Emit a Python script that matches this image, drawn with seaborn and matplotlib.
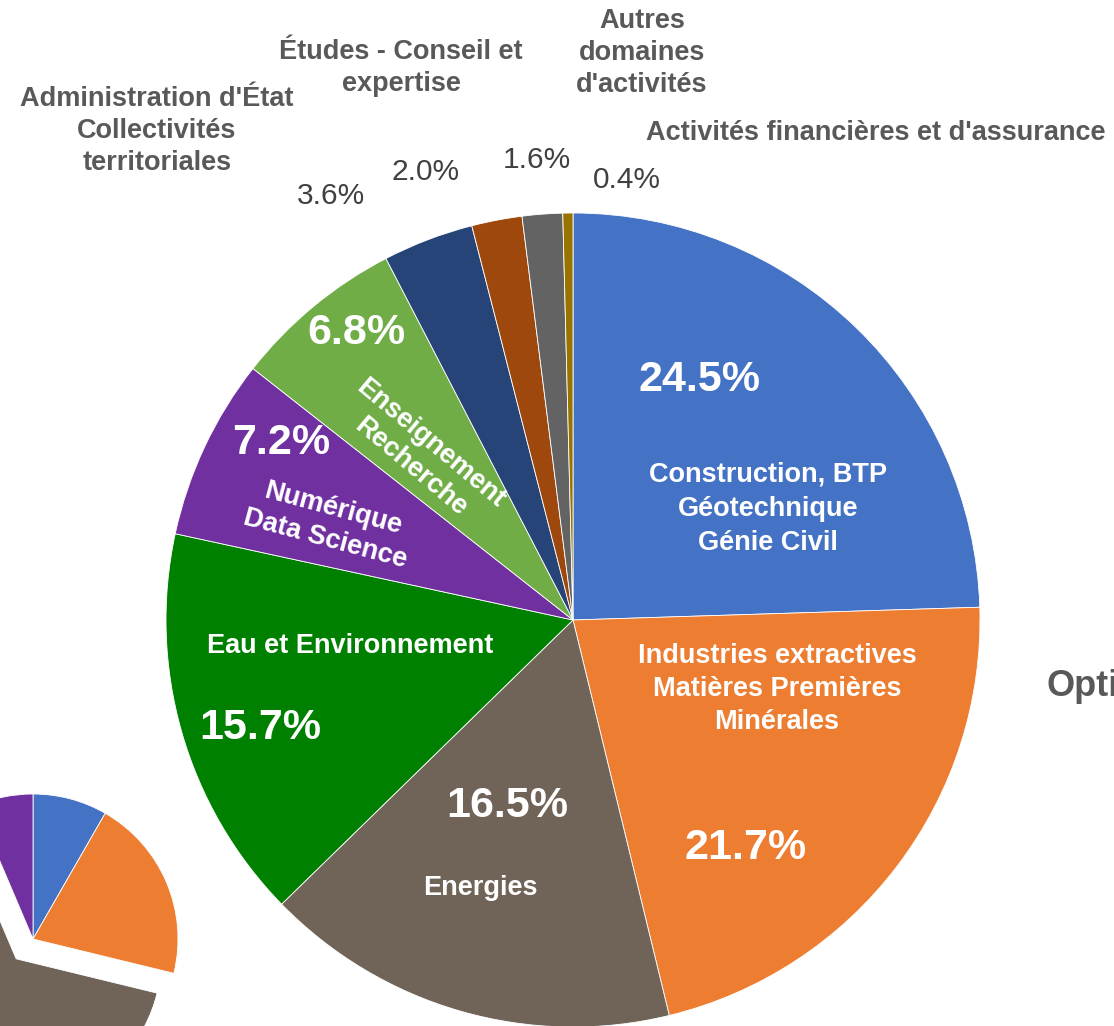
import matplotlib
matplotlib.use('Agg')
import matplotlib.pyplot as plt
import seaborn as sns

# main pie: share of graduates per sector (%)
sectors = ["Construction, BTP", "Industries extractives", "Energies", "Eau et Environnement",
           "Numérique", "Enseignement", "Administration", "Études", "Autres", "Financières"]
shares = [24.5, 21.7, 16.5, 15.7, 7.2, 6.8, 3.6, 2.0, 1.6, 0.4]
colors = ["#4472C4", "#ED7D31", "#706357", "#008000", "#7030A0",
          "#70AD47", "#264478", "#9E480E", "#636363", "#997300"]

# second (cropped) pie at bottom left
side_shares = [8.3, 20.5, 64.8, 6.4]
side_colors = ["#4472C4", "#ED7D31", "#706357", "#7030A0"]

W, H = 1114, 1026

sns.set_theme(style="white")
plt.rcParams['font.family'] = ['Liberation Sans', 'DejaVu Sans']


def Y(y):
    return H - y


fig = plt.figure(figsize=(W / 100, H / 100), dpi=100)
ax = fig.add_axes([0, 0, 1, 1])

ax.pie(shares, colors=colors, startangle=90, counterclock=False,
       center=(573, Y(620)), radius=407, frame=True,
       wedgeprops=dict(edgecolor="white", linewidth=0.6))

# explode is in data units here (pixels)
ax.pie(side_shares, colors=side_colors, startangle=90, counterclock=False,
       center=(33, Y(939)), radius=145, explode=[0, 0, 26, 0], frame=True,
       wedgeprops=dict(edgecolor="white", linewidth=0.6))

ax.set_xlim(0, W)
ax.set_ylim(0, H)
ax.set_aspect('equal')
ax.axis('off')

white = dict(color="white", fontweight="bold", ha="center", va="center")
big = 31
mid = 19.5

# percentages inside
ax.text(700, Y(380), "24.5%", fontsize=big, **white)
ax.text(746, Y(848), "21.7%", fontsize=big, **white)
ax.text(507, Y(806), "16.5%", fontsize=big, **white)
ax.text(260, Y(728), "15.7%", fontsize=big, **white)
ax.text(281, Y(443), "7.2%", fontsize=big, **white)
ax.text(356, Y(333), "6.8%", fontsize=big, **white)

# category labels inside
ax.text(768, Y(509), "Construction, BTP\nGéotechnique\nGénie Civil", fontsize=mid,
        linespacing=1.4, **white)
ax.text(777, Y(689), "Industries extractives\nMatières Premières\nMinérales", fontsize=mid,
        linespacing=1.35, **white)
ax.text(480, Y(888), "Energies", fontsize=mid, **white)
ax.text(350, Y(646), "Eau et Environnement", fontsize=mid, **white)
ax.text(329, Y(524), "Numérique\nData Science", fontsize=mid, rotation=-15,
        rotation_mode="anchor", linespacing=1.3, **white)
ax.text(421, Y(455), "Enseignement\nRecherche", fontsize=mid, rotation=-40,
        rotation_mode="anchor", linespacing=1.25, **white)

# outside labels
gray = "#595959"
outer = dict(color=gray, fontweight="bold", ha="center", va="center", fontsize=19.5,
             linespacing=1.32)
ax.text(157, Y(131), "Administration d'État\nCollectivités\nterritoriales", **outer)
ax.text(401, Y(68), "Études - Conseil et\nexpertise", **outer)
ax.text(642, Y(53), "Autres\ndomaines\nd'activités", **outer)
ax.text(876, Y(133), "Activités financières et d'assurance", **outer)
ax.text(1046, Y(686), "Opti", color=gray, fontweight="bold", ha="left", va="center",
        fontsize=26)

pct = dict(color="#404040", ha="center", va="center", fontsize=21.5)
ax.text(331, Y(196), "3.6%", **pct)
ax.text(426, Y(172), "2.0%", **pct)
ax.text(537, Y(160), "1.6%", **pct)
ax.text(627, Y(180), "0.4%", **pct)

fig.savefig("out.png", dpi=100)
plt.close(fig)
